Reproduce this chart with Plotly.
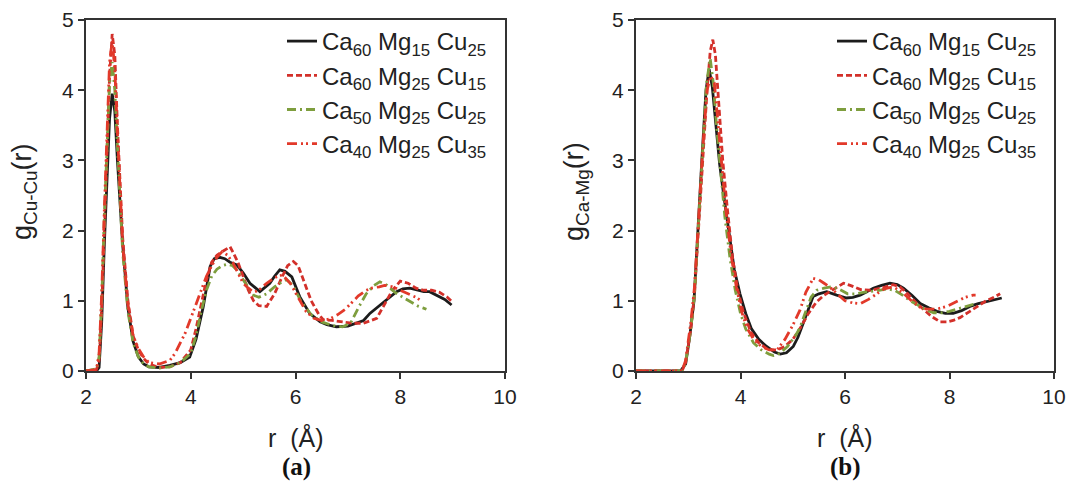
import plotly.graph_objects as go

W, H = 1071, 487

names = ["Ca<sub>60</sub> Mg<sub>15</sub> Cu<sub>25</sub>",
         "Ca<sub>60</sub> Mg<sub>25</sub> Cu<sub>15</sub>",
         "Ca<sub>50</sub> Mg<sub>25</sub> Cu<sub>25</sub>",
         "Ca<sub>40</sub> Mg<sub>25</sub> Cu<sub>35</sub>"]

# ---------- panel (a): g_Cu-Cu ----------
r_a1 = [2.0,2.2,2.25,2.3,2.35,2.4,2.45,2.5,2.55,2.6,2.65,2.7,2.8,2.9,3.0,3.1,3.2,3.4,3.6,3.8,3.98,4.1,4.24,4.37,4.45,4.55,4.65,4.75,4.88,5.0,5.13,5.32,5.51,5.6,5.7,5.8,5.93,6.08,6.27,6.47,6.6,6.78,7.0,7.17,7.3,7.42,7.55,7.67,7.8,7.93,8.05,8.18,8.3,8.45,8.56,8.7,8.85,8.98]
g_a1 = [0,0,0.05,0.7,1.8,2.8,3.6,3.95,3.7,3.0,2.4,1.8,0.9,0.42,0.2,0.1,0.06,0.05,0.08,0.12,0.2,0.45,0.92,1.49,1.6,1.62,1.6,1.55,1.51,1.4,1.25,1.13,1.25,1.35,1.44,1.42,1.34,1.06,0.82,0.70,0.66,0.63,0.64,0.68,0.72,0.82,0.9,0.98,1.06,1.13,1.17,1.18,1.16,1.13,1.13,1.08,1.02,0.94]

r_a2 = [2.0,2.2,2.25,2.3,2.35,2.4,2.45,2.5,2.55,2.6,2.65,2.7,2.8,2.9,3.0,3.1,3.2,3.4,3.6,3.8,4.0,4.1,4.2,4.3,4.4,4.5,4.6,4.7,4.75,4.8,4.9,5.0,5.1,5.2,5.3,5.45,5.6,5.75,5.85,5.96,6.05,6.15,6.3,6.45,6.53,6.7,6.9,7.1,7.3,7.45,7.55,7.7,7.85,8.0,8.15,8.3,8.45,8.6,8.75,8.9,9.0]
g_a2 = [0,0.02,0.15,0.9,2.0,3.1,4.2,4.8,4.5,3.5,2.6,1.9,1.0,0.5,0.3,0.18,0.1,0.05,0.06,0.12,0.3,0.6,0.95,1.3,1.55,1.65,1.7,1.75,1.77,1.7,1.55,1.35,1.15,1.0,0.93,0.92,1.1,1.35,1.5,1.56,1.5,1.3,1.0,0.8,0.73,0.72,0.7,0.68,0.68,0.72,0.75,0.95,1.15,1.28,1.25,1.18,1.15,1.15,1.12,1.05,0.98]

r_a3 = [2.0,2.2,2.25,2.3,2.35,2.4,2.45,2.5,2.55,2.6,2.65,2.7,2.8,2.9,3.0,3.1,3.2,3.4,3.6,3.8,4.0,4.1,4.2,4.3,4.4,4.5,4.6,4.7,4.8,4.9,5.0,5.1,5.2,5.3,5.45,5.6,5.7,5.83,5.95,6.1,6.3,6.5,6.7,6.9,7.05,7.2,7.35,7.5,7.61,7.75,7.9,8.05,8.2,8.35,8.43,8.5]
g_a3 = [0,0.03,0.2,1.0,2.2,3.3,4.1,4.4,4.0,3.2,2.4,1.7,0.85,0.4,0.2,0.1,0.06,0.04,0.06,0.12,0.25,0.5,0.85,1.15,1.35,1.45,1.5,1.52,1.5,1.42,1.3,1.18,1.08,1.05,1.1,1.2,1.25,1.3,1.22,1.0,0.8,0.7,0.65,0.63,0.68,0.9,1.1,1.22,1.27,1.22,1.12,1.05,0.98,0.92,0.9,0.88]

r_a4 = [2.0,2.2,2.25,2.3,2.35,2.4,2.45,2.5,2.55,2.6,2.65,2.7,2.8,2.9,3.0,3.1,3.2,3.4,3.6,3.7,3.8,3.9,4.0,4.1,4.2,4.3,4.4,4.5,4.6,4.7,4.8,4.9,5.0,5.1,5.2,5.3,5.45,5.6,5.75,5.9,6.05,6.2,6.35,6.5,6.65,6.8,6.95,7.05,7.2,7.35,7.45,7.6,7.7,7.85,8.0,8.15,8.3,8.4]
g_a4 = [0,0.02,0.25,1.1,2.3,3.5,4.4,4.7,4.3,3.4,2.5,1.8,0.95,0.5,0.32,0.2,0.12,0.1,0.15,0.25,0.4,0.55,0.75,0.95,1.15,1.35,1.5,1.62,1.7,1.65,1.55,1.4,1.25,1.18,1.12,1.15,1.25,1.33,1.37,1.25,1.05,0.85,0.75,0.72,0.74,0.8,0.88,0.96,1.07,1.15,1.18,1.2,1.22,1.2,1.15,1.1,1.05,1.0]

# ---------- panel (b): g_Ca-Mg ----------
r_b1 = [2.0,2.85,2.95,3.03,3.11,3.18,3.26,3.34,3.40,3.46,3.52,3.6,3.68,3.77,3.88,3.99,4.1,4.21,4.35,4.5,4.65,4.76,4.88,5.01,5.1,5.2,5.3,5.39,5.5,5.65,5.84,6.03,6.15,6.29,6.4,6.54,6.7,6.86,7.0,7.12,7.28,7.44,7.6,7.76,7.92,8.07,8.23,8.39,8.55,8.71,8.86,9.0]
g_b1 = [0,0,0.1,0.5,1.0,2.0,3.0,4.0,4.3,4.05,3.6,2.95,2.5,2.0,1.45,1.1,0.82,0.6,0.45,0.35,0.27,0.24,0.26,0.35,0.48,0.68,0.88,1.06,1.1,1.13,1.08,1.04,1.05,1.08,1.12,1.18,1.22,1.25,1.23,1.18,1.08,0.96,0.9,0.85,0.82,0.82,0.86,0.92,0.96,0.99,1.02,1.04]

r_b2 = [2.0,2.88,2.95,3.05,3.12,3.2,3.28,3.36,3.42,3.47,3.52,3.58,3.66,3.75,3.85,3.95,4.05,4.2,4.35,4.5,4.6,4.7,4.85,5.0,5.15,5.3,5.45,5.6,5.75,5.9,5.97,6.1,6.3,6.47,6.7,6.92,7.05,7.2,7.35,7.5,7.65,7.82,7.95,8.07,8.2,8.39,8.55,8.7,8.85,8.97]
g_b2 = [0,0,0.12,0.6,1.1,2.1,3.1,4.0,4.55,4.72,4.5,3.8,3.0,2.3,1.6,1.15,0.85,0.55,0.4,0.32,0.3,0.3,0.35,0.45,0.62,0.82,0.98,1.08,1.15,1.22,1.25,1.22,1.16,1.15,1.18,1.23,1.2,1.1,0.98,0.88,0.78,0.70,0.70,0.72,0.76,0.85,0.93,1.0,1.05,1.1]

r_b3 = [2.0,2.88,2.95,3.05,3.12,3.2,3.28,3.35,3.42,3.48,3.54,3.62,3.7,3.8,3.9,4.0,4.1,4.25,4.4,4.55,4.63,4.75,4.9,5.05,5.14,5.25,5.35,5.46,5.6,5.75,5.9,6.05,6.2,6.35,6.5,6.65,6.8,6.95,7.1,7.25,7.44,7.58,7.7,7.85,8.0,8.15,8.33,8.45,8.5]
g_b3 = [0,0,0.12,0.6,1.1,2.1,3.2,4.1,4.45,4.1,3.5,2.8,2.2,1.6,1.15,0.82,0.6,0.4,0.3,0.24,0.22,0.25,0.35,0.5,0.62,0.85,1.05,1.15,1.18,1.2,1.16,1.1,1.1,1.12,1.13,1.15,1.17,1.15,1.08,1.0,0.92,0.86,0.83,0.83,0.85,0.88,0.92,0.95,0.96]

r_b4 = [2.0,2.88,2.95,3.05,3.12,3.2,3.28,3.36,3.43,3.5,3.56,3.64,3.72,3.82,3.92,4.02,4.12,4.25,4.4,4.55,4.7,4.85,5.0,5.14,5.25,5.39,5.5,5.6,5.7,5.85,6.0,6.15,6.29,6.45,6.6,6.75,6.92,7.1,7.3,7.45,7.57,7.75,7.95,8.15,8.3,8.45,8.5]
g_b4 = [0,0,0.15,0.7,1.2,2.2,3.2,4.0,4.2,4.1,3.6,2.9,2.3,1.65,1.2,0.85,0.62,0.45,0.35,0.3,0.3,0.45,0.65,0.87,1.12,1.32,1.3,1.25,1.2,1.1,1.0,0.97,0.96,1.02,1.1,1.17,1.2,1.12,0.98,0.9,0.88,0.88,0.92,1.0,1.05,1.08,1.08]

x_ticks = [2, 4, 6, 8, 10]
y_ticks = [0, 1, 2, 3, 4, 5]

colors = ["#1c1c1c", "#d3302a", "#7e9e3e", "#e2392a"]
dashes = ["solid", "6px,3px", "9px,4px,2px,4px", "10px,4px,2px,3px,2px,4px"]

FONT = "Liberation Sans, Arial, sans-serif"

fig = go.Figure()
panel_a = [(r_a1, g_a1), (r_a2, g_a2), (r_a3, g_a3), (r_a4, g_a4)]
panel_b = [(r_b1, g_b1), (r_b2, g_b2), (r_b3, g_b3), (r_b4, g_b4)]

for i, (rr, gg) in enumerate(panel_a):
    fig.add_trace(go.Scatter(x=rr, y=gg, mode="lines", name=names[i],
                             line=dict(color=colors[i], width=2.8, dash=dashes[i]),
                             xaxis="x", yaxis="y", legend="legend"))
for i, (rr, gg) in enumerate(panel_b):
    fig.add_trace(go.Scatter(x=rr, y=gg, mode="lines", name=names[i],
                             line=dict(color=colors[i], width=2.8, dash=dashes[i]),
                             xaxis="x2", yaxis="y2", legend="legend2"))

def px(x):
    return x / W

def py(y):
    return 1 - y / H

axis_common = dict(showline=True, linecolor="#333333", linewidth=2, mirror=True,
                   ticks="outside", ticklen=6, tickwidth=2, tickcolor="#333333",
                   showgrid=False, zeroline=False, automargin=False,
                   tickfont=dict(family=FONT, size=21, color="#222222"))

legend_common = dict(font=dict(family=FONT, size=24, color="#222222"),
                     bgcolor="rgba(0,0,0,0)", borderwidth=0,
                     xanchor="left", yanchor="top", traceorder="normal",
                     itemwidth=30, tracegroupgap=0)

fig.update_layout(
    width=W, height=H, autosize=False,
    margin=dict(l=0, r=0, t=0, b=0),
    paper_bgcolor="white", plot_bgcolor="white",
    xaxis=dict(domain=[px(86), px(505)], range=[2, 10], tickvals=x_ticks, anchor="y", **axis_common),
    yaxis=dict(domain=[py(371), py(20)], range=[0, 5], tickvals=y_ticks, anchor="x", **axis_common),
    xaxis2=dict(domain=[px(636), px(1054)], range=[2, 10], tickvals=x_ticks, anchor="y2", **axis_common),
    yaxis2=dict(domain=[py(371), py(20)], range=[0, 5], tickvals=y_ticks, anchor="x2", **axis_common),
    legend=dict(x=px(282), y=py(19), **legend_common),
    legend2=dict(x=px(832), y=py(19), **legend_common),
    showlegend=True,
)

ann_font = dict(family=FONT, size=25, color="#222222")
ytitle_font = dict(family=FONT, size=27, color="#222222")
bold_font = dict(family="Liberation Serif, Times New Roman, serif", size=25, color="#111111")
annotations = [
    dict(text="r  (Å)", x=px(296), y=py(437), font=ann_font),
    dict(text="r  (Å)", x=px(845), y=py(437), font=ann_font),
    dict(text="<b>(a)</b>", x=px(296), y=py(467), font=bold_font),
    dict(text="<b>(b)</b>", x=px(845), y=py(467), font=bold_font),
    dict(text="g<sub>Cu-Cu</sub>(r)", x=px(24), y=py(192), textangle=-90, font=ytitle_font),
    dict(text="g<sub>Ca-Mg</sub>(r)", x=px(576), y=py(192), textangle=-90, font=ytitle_font),
]
for a in annotations:
    fig.add_annotation(xref="paper", yref="paper", showarrow=False,
                       xanchor="center", yanchor="middle", **a)

fig.write_html("out.html",
               config={"displayModeBar": False},
               post_script="document.body.style.margin='0';document.body.style.overflow='hidden';")
